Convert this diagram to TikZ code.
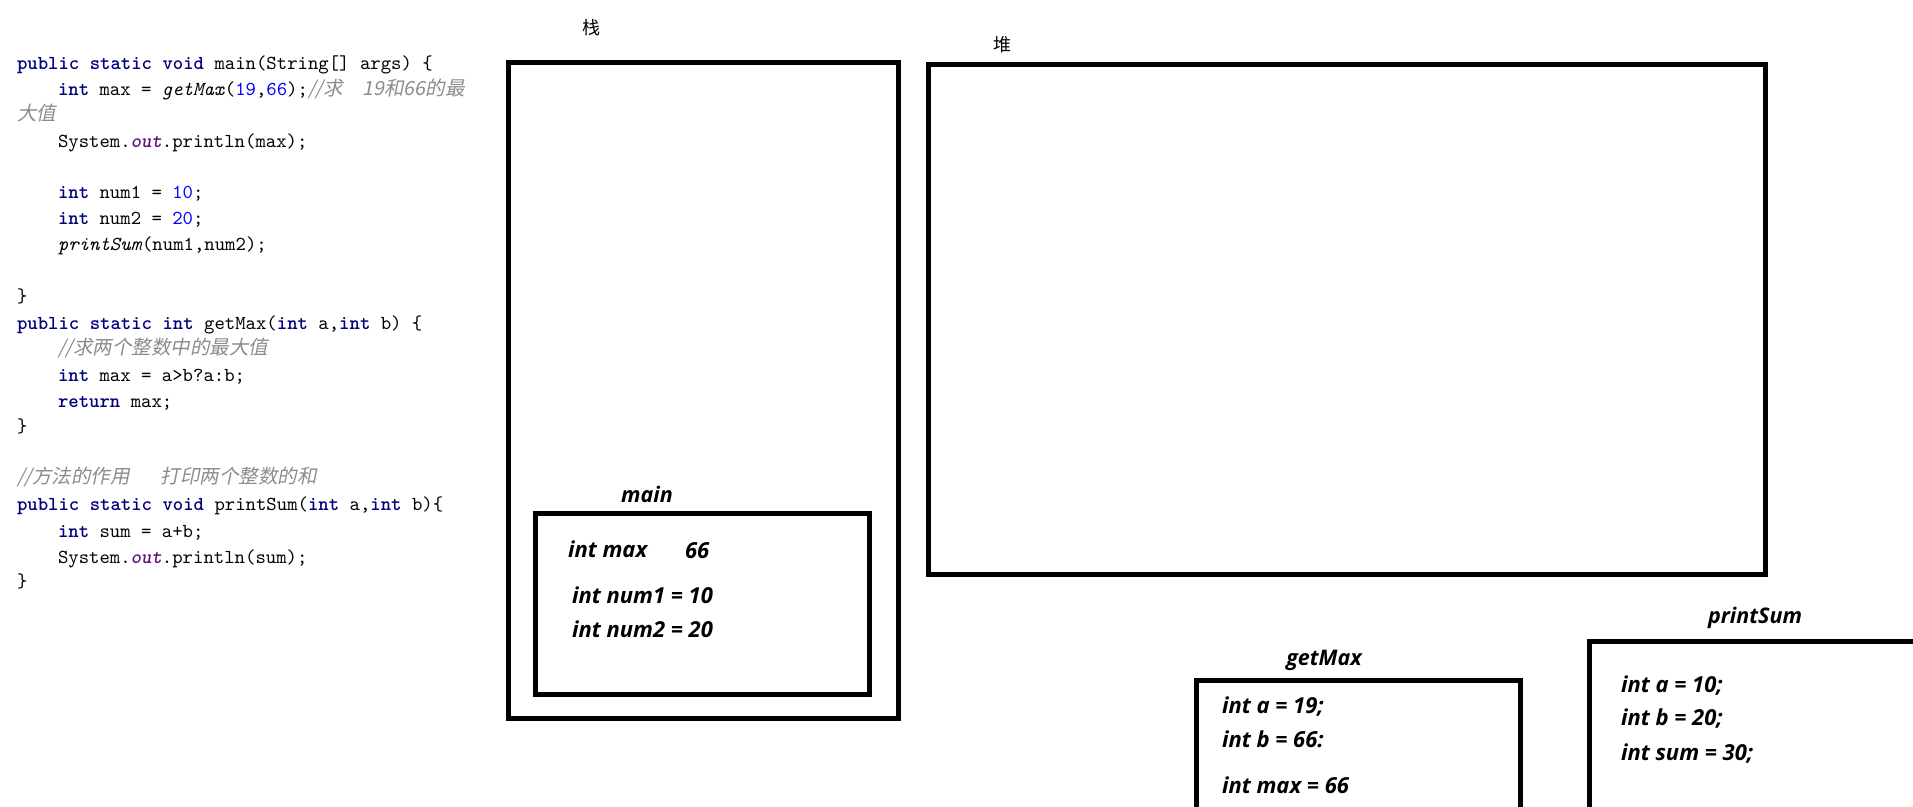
\documentclass[tikz,border=0pt]{standalone}
\usepackage{fontspec}
\usepackage{xcolor}
% code listing font (monospaced serif) and its bold / italic faces
\newfontfamily\codefont{lmmono10-regular}[Extension=.otf,
  BoldFont=lmmonolt10-bold, ItalicFont=lmmono10-italic,
  BoldItalicFont=lmmonolt10-boldoblique]
\newfontfamily\cjkfont{Noto Sans CJK SC}
\newfontfamily\cjkslant{Noto Sans CJK SC}[FakeSlant=0.2]
\newfontfamily\varfont{Open Sans}

\definecolor{kwnavy}{HTML}{000080}
\definecolor{numblue}{HTML}{0000FF}
\definecolor{cmtgray}{HTML}{8C8C8C}
\definecolor{fieldpurple}{HTML}{660E7A}

\newcommand{\kw}[1]{{\bfseries\color{kwnavy}#1}}
\newcommand{\nm}[1]{{\color{numblue}#1}}
\newcommand{\cm}[1]{{\cjkslant\fontsize{19.5}{24}\selectfont\color{cmtgray}#1}}
\newcommand{\fld}[1]{{\bfseries\itshape\color{fieldpurple}#1}}

\tikzset{
  code/.style={anchor=base west, inner sep=0pt, outer sep=0pt,
    font=\codefont\fontsize{19.8}{24}\selectfont},
  var/.style={anchor=base west, inner sep=0pt, outer sep=0pt,
    font=\varfont\fontsize{22}{26}\selectfont\bfseries\itshape},
  frametitle/.style={anchor=base, inner sep=0pt, outer sep=0pt,
    font=\varfont\fontsize{21.5}{25}\selectfont\bfseries\itshape},
  areatitle/.style={inner sep=0pt, outer sep=0pt,
    font=\cjkfont\fontsize{18}{20}\selectfont},
  frame/.style={draw, line width=5pt, inner sep=0pt, outer sep=0pt,
    anchor=north west}
}

\begin{document}
\begin{tikzpicture}[x=1pt,y=-1pt]
\useasboundingbox (0,0) rectangle (1913,806);
\clip (0,0) rectangle (1913,806);
\fill[white] (0,0) rectangle (1913,806);

% ---- Java source ----
\node[code] (l1)  at (17,69)  {\kw{public static void} main(String[] args) \{};
\node[code] (l2)  at (58,95)  {\kw{int} max = \textit{getMax}(\nm{19},\nm{66});\cm{//求\hspace{20pt}19和66的最}};
\node[code] (l3)  at (17,120) {\cm{大值}};
\node[code] (l4)  at (58,147) {System.\fld{out}.println(max);};
\node[code] (l5)  at (58,198) {\kw{int} num1 = \nm{10};};
\node[code] (l6)  at (58,224) {\kw{int} num2 = \nm{20};};
\node[code] (l7)  at (58,250) {\textit{printSum}(num1,num2);};
\node[code] (l8)  at (17,302) {\}};
\node[code] (l9)  at (17,329) {\kw{public static int} getMax(\kw{int} a,\kw{int} b) \{};
\node[code] (l10) at (58,354) {\cm{//求两个整数中的最大值}};
\node[code] (l11) at (58,381) {\kw{int} max = a>b?a:b;};
\node[code] (l12) at (58,407) {\kw{return} max;};
\node[code] (l13) at (17,432) {\}};
\node[code] (l14) at (17,483) {\cm{//方法的作用\hspace{31pt}打印两个整数的和}};
\node[code] (l15) at (17,510) {\kw{public static void} printSum(\kw{int} a,\kw{int} b)\{};
\node[code] (l16) at (58,537) {\kw{int} sum = a+b;};
\node[code] (l17) at (58,563) {System.\fld{out}.println(sum);};
\node[code] (l18) at (17,587) {\}};

% ---- memory areas ----
\node[areatitle] (stacktitle) at (591,28) {栈};
\node[areatitle] (heaptitle)  at (1002,45) {堆};
\node[frame, minimum width=390pt, minimum height=656pt] (stack) at (508.5,62.5) {};
\node[frame, minimum width=836.5pt, minimum height=510pt] (heap) at (928.5,64.5) {};

% ---- frame of main ----
\node[frametitle] (maint) at (647,502) {main};
\node[frame, minimum width=333.5pt, minimum height=180.5pt] (mainf) at (535.5,513.5) {};
\node[var] (m1) at (568,557) {int max};
\node[var] (m2) at (685,558) {66};
\node[var] (m3) at (572,603) {int num1 = 10};
\node[var] (m4) at (572,637) {int num2 = 20};

% ---- frame of getMax ----
\node[frametitle] (gmt) at (1324,665) {getMax};
\node[frame, minimum width=324pt, minimum height=200pt] (gmf) at (1196.5,680.5) {};
\node[var] (g1) at (1222,713) {int a = 19;};
\node[var] (g2) at (1222,747) {int b = 66:};
\node[var] (g3) at (1222,793) {int max = 66};

% ---- frame of printSum ----
\node[frametitle] (pst) at (1755,623) {printSum};
\node[frame, minimum width=400pt, minimum height=250pt] (psf) at (1589.5,641.5) {};
\node[var] (p1) at (1621,692) {int a = 10;};
\node[var] (p2) at (1621,725) {int b = 20;};
\node[var] (p3) at (1621,760) {int sum = 30;};
\end{tikzpicture}
\end{document}
